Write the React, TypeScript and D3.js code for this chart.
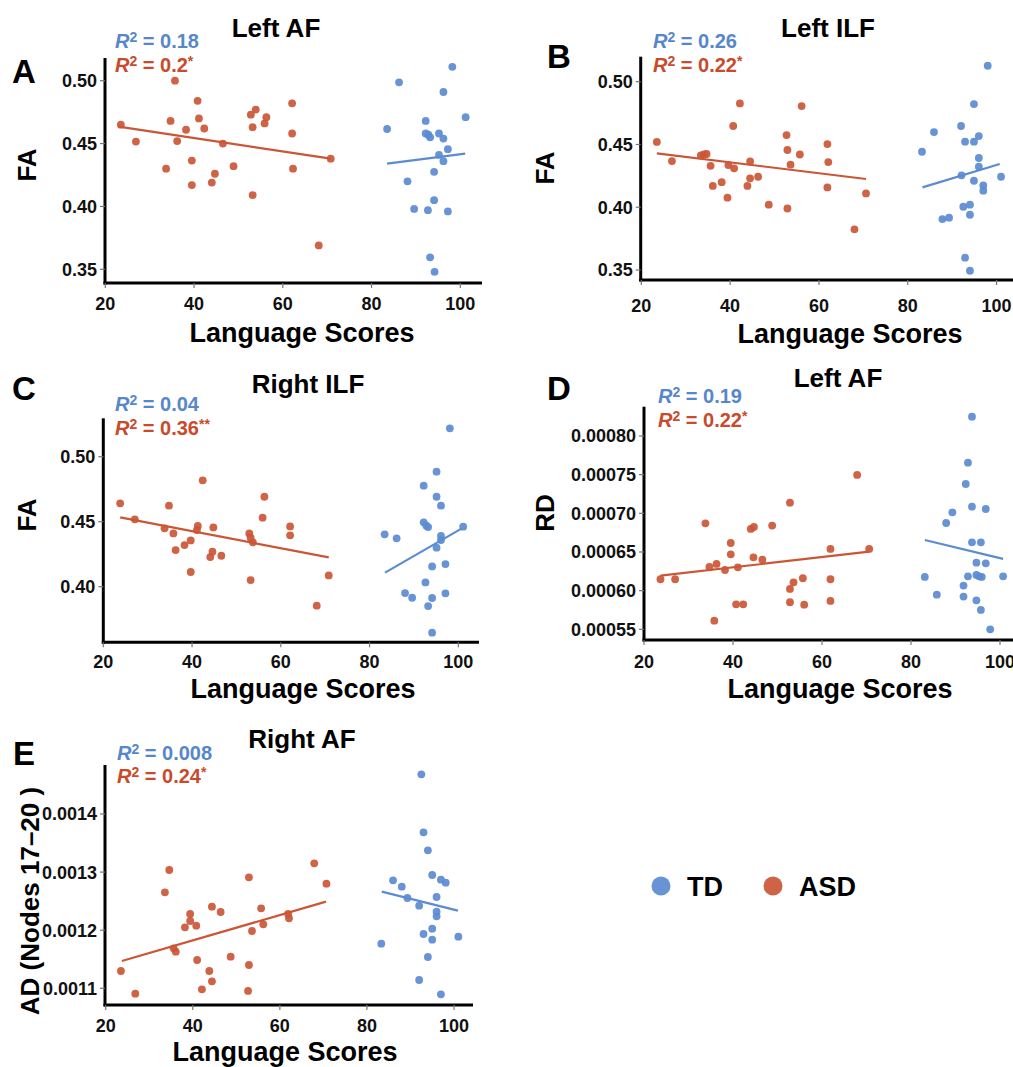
import React from "react";
import * as d3 from "d3";

// ---- data ----
const xTicks = [20, 40, 60, 80, 100];
const faTicks = [0.35, 0.4, 0.45, 0.5];
const rdTicks = [0.00055, 0.0006, 0.00065, 0.0007, 0.00075, 0.0008];
const adTicks = [0.0011, 0.0012, 0.0013, 0.0014];

const leftAfFaAsd: [number, number][] = [
  [23.5, 0.465], [26.9, 0.4516], [33.7, 0.43], [34.7, 0.468], [35.7, 0.5], [36.2, 0.452],
  [38.2, 0.461], [39.5, 0.4365], [39.5, 0.417], [40.8, 0.484], [41.1, 0.47], [42.3, 0.462],
  [44.0, 0.419], [44.7, 0.426], [46.5, 0.45], [48.9, 0.432], [52.8, 0.473], [53.2, 0.463],
  [53.2, 0.409], [53.9, 0.477], [55.9, 0.466], [56.3, 0.471], [62.1, 0.482], [62.1, 0.458],
  [62.3, 0.43], [68.1, 0.369], [70.8, 0.438],
];
const leftAfFaTd: [number, number][] = [
  [83.5, 0.4616], [86.2, 0.4987], [88.1, 0.42], [89.6, 0.398], [92.2, 0.468], [92.2, 0.458],
  [92.8, 0.457], [93.2, 0.455], [92.7, 0.397], [93.2, 0.3595], [94.1, 0.4275], [94.1, 0.405],
  [94.2, 0.348], [95.2, 0.458], [95.2, 0.441], [96.2, 0.491], [96.2, 0.454], [96.2, 0.436],
  [97.2, 0.4455], [97.2, 0.396], [98.2, 0.511], [101.2, 0.471],
];
const leftAfFaAsdFit: [number, number][] = [[23.0, 0.4635], [70.8, 0.438]];
const leftAfFaTdFit: [number, number][] = [[83.5, 0.434], [101.1, 0.442]];

const leftIlfFaAsd: [number, number][] = [
  [23.5, 0.452], [26.9, 0.4368], [33.4, 0.4413], [34.1, 0.442], [34.7, 0.4424], [35.6, 0.433],
  [36.1, 0.417], [38.1, 0.42], [39.4, 0.4076], [39.6, 0.4336], [40.7, 0.4647], [40.9, 0.431],
  [42.2, 0.4827], [43.9, 0.417], [44.5, 0.423], [44.5, 0.4365], [46.3, 0.4243], [48.7, 0.402],
  [52.7, 0.4575], [52.9, 0.4456], [52.9, 0.399], [53.6, 0.4339], [55.7, 0.442], [56.1, 0.4806],
  [61.9, 0.4503], [62.1, 0.436], [61.9, 0.4158], [68.0, 0.3824], [70.6, 0.411],
];
const leftIlfFaTd: [number, number][] = [
  [83.2, 0.4442], [85.9, 0.4599], [87.8, 0.3906], [89.3, 0.3917], [92.0, 0.4647], [92.1, 0.4254],
  [92.5, 0.4004], [92.9, 0.4522], [92.9, 0.3598], [94.0, 0.402], [94.0, 0.394], [94.0, 0.3494],
  [94.9, 0.4822], [94.9, 0.4522], [94.9, 0.4211], [96.0, 0.4567], [96.0, 0.4392], [96.0, 0.4323],
  [97.0, 0.4174], [97.0, 0.4132], [98.0, 0.5127], [101.0, 0.4243],
];
const leftIlfFaAsdFit: [number, number][] = [[23.5, 0.4429], [70.6, 0.4225]];
const leftIlfFaTdFit: [number, number][] = [[83.3, 0.4158], [100.7, 0.4344]];

const rightIlfFaAsd: [number, number][] = [
  [23.8, 0.4641], [27.1, 0.4518], [33.8, 0.4449], [34.8, 0.4623], [35.8, 0.441], [36.3, 0.4282],
  [38.3, 0.432], [39.7, 0.4356], [39.7, 0.4113], [41.1, 0.4436], [41.3, 0.4467], [42.4, 0.4818],
  [44.1, 0.4228], [44.6, 0.4269], [44.8, 0.4456], [46.6, 0.4238], [52.9, 0.441], [53.2, 0.4377],
  [53.7, 0.4341], [53.2, 0.4051], [55.9, 0.4531], [56.3, 0.4692], [62.1, 0.4464], [62.1, 0.4395],
  [68.1, 0.3854], [70.8, 0.4087],
];
const rightIlfFaTd: [number, number][] = [
  [83.4, 0.4403], [86.1, 0.4372], [88.0, 0.3951], [89.6, 0.3915], [92.2, 0.4777], [92.2, 0.4495],
  [92.8, 0.4469], [93.2, 0.4459], [92.6, 0.4033], [93.2, 0.3851], [94.1, 0.4156], [94.1, 0.3913],
  [94.1, 0.3646], [95.1, 0.4885], [95.1, 0.4692], [95.1, 0.43], [96.1, 0.4623], [96.1, 0.439],
  [96.1, 0.4359], [97.1, 0.4174], [97.1, 0.3949], [98.1, 0.5218], [101.1, 0.4462],
];
const rightIlfFaAsdFit: [number, number][] = [[23.8, 0.4533], [70.8, 0.4226]];
const rightIlfFaTdFit: [number, number][] = [[83.5, 0.4108], [100.8, 0.4449]];

const leftAfRdAsd: [number, number][] = [
  [23.7, 0.0006147], [27.0, 0.0006147], [33.8, 0.0006871], [34.7, 0.0006306], [35.8, 0.0005612],
  [36.3, 0.0006345], [38.2, 0.0006267], [39.5, 0.0006616], [39.5, 0.000647], [40.7, 0.0005823],
  [41.1, 0.0006302], [42.3, 0.0005823], [44.0, 0.0006798], [44.7, 0.0006823], [44.6, 0.0006431],
  [46.6, 0.0006401], [48.8, 0.0006841], [52.8, 0.0007138], [52.8, 0.0006022], [52.8, 0.000585],
  [53.6, 0.0006108], [55.7, 0.000616], [56.0, 0.0005819], [61.9, 0.0006539], [61.9, 0.0006147],
  [61.9, 0.0005867], [67.9, 0.0007496], [70.6, 0.0006539],
];
const leftAfRdTd: [number, number][] = [
  [83.1, 0.0006177], [85.8, 0.0005948], [87.9, 0.0006875], [89.3, 0.0007013], [91.8, 0.0006065],
  [91.8, 0.0005923], [92.3, 0.0007379], [92.8, 0.0007655], [92.8, 0.0006185], [93.7, 0.000825],
  [93.7, 0.0007086], [93.7, 0.0006625], [94.7, 0.0006362], [94.7, 0.0006203], [94.7, 0.0005875],
  [95.3, 0.0006185], [95.9, 0.0006177], [95.7, 0.0006625], [95.7, 0.000575], [96.8, 0.0007056],
  [96.8, 0.0006353], [97.8, 0.00055], [100.7, 0.0006185],
];
const leftAfRdAsdFit: [number, number][] = [[23.7, 0.0006194], [70.6, 0.0006504]];
const leftAfRdTdFit: [number, number][] = [[83.1, 0.0006655], [100.7, 0.000641]];

const rightAfAdAsd: [number, number][] = [
  [23.5, 0.0011298], [26.8, 0.0010908], [33.6, 0.0012652], [34.6, 0.0013036], [35.6, 0.0011688],
  [36.1, 0.001163], [38.2, 0.0012049], [39.4, 0.0012279], [39.4, 0.0012158], [40.8, 0.0012078],
  [41.0, 0.0011487], [42.1, 0.0010982], [43.8, 0.0011298], [44.4, 0.0012405], [44.4, 0.001112],
  [46.4, 0.0012313], [48.7, 0.0011545], [52.9, 0.001291], [52.9, 0.0011401], [52.7, 0.0010954],
  [53.6, 0.0011986], [55.7, 0.0012376], [56.2, 0.0012101], [61.9, 0.0012279], [62.1, 0.0012204],
  [67.9, 0.0013151], [70.7, 0.0012801],
];
const rightAfAdTd: [number, number][] = [
  [83.3, 0.0011768], [86.0, 0.0012858], [88.0, 0.0012749], [89.3, 0.0012554], [92.0, 0.0012422],
  [92.0, 0.0011143], [92.5, 0.0014683], [93.0, 0.0013684], [93.0, 0.0011935], [94.0, 0.0013375],
  [94.0, 0.0011539], [95.0, 0.001295], [95.0, 0.0012026], [95.0, 0.0011837], [96.0, 0.0012571],
  [96.0, 0.0012319], [96.0, 0.0012239], [97.0, 0.001287], [97.0, 0.0010896], [98.1, 0.0012818],
  [101.0, 0.0011889],
];
const rightAfAdAsdFit: [number, number][] = [[23.7, 0.001147], [70.6, 0.0012491]];
const rightAfAdTdFit: [number, number][] = [[83.4, 0.0012663], [100.9, 0.0012336]];

const tdColor = "#5b8bd2";
const asdColor = "#cb5636";
const tdText = "#5787cb";
const asdText = "#c94a2c";
const font = "'Liberation Sans', Arial, Helvetica, sans-serif";

type Panel = {
  letter: string; title: string; yLabel: string; yTicks: number[]; yFmt: string;
  asd: [number, number][]; td: [number, number][];
  asdFit: [number, number][]; tdFit: [number, number][];
  r2Td: string; r2Asd: string; stars: string;
  // layout (pixels)
  x20: number; x100: number; xEnd: number; axisX: number; axisTop: number; axisY: number;
  yLo: [number, number]; yHi: [number, number];
  letterPos: [number, number]; titlePos: [number, number];
  r2Pos: [number, number, number]; yLabelPos: [number, number];
  xTitlePos: [number, number]; tickBase: number;
};

const panels: Panel[] = [
  {
    letter: "A", title: "Left AF", yLabel: "FA", yTicks: faTicks, yFmt: ".2f",
    asd: leftAfFaAsd, td: leftAfFaTd, asdFit: leftAfFaAsdFit, tdFit: leftAfFaTdFit,
    r2Td: "0.18", r2Asd: "0.2", stars: "*",
    x20: 105.3, x100: 460.3, xEnd: 482, axisX: 105, axisTop: 58, axisY: 283,
    yLo: [0.35, 269.3], yHi: [0.5, 80.7],
    letterPos: [12, 83], titlePos: [276, 37], r2Pos: [115, 48, 72], yLabelPos: [27, 165],
    xTitlePos: [302, 342], tickBase: 310,
  },
  {
    letter: "B", title: "Left ILF", yLabel: "FA", yTicks: faTicks, yFmt: ".2f",
    asd: leftIlfFaAsd, td: leftIlfFaTd, asdFit: leftIlfFaAsdFit, tdFit: leftIlfFaTdFit,
    r2Td: "0.26", r2Asd: "0.22", stars: "*",
    x20: 641.3, x100: 996.6, xEnd: 1020, axisX: 640.7, axisTop: 56.7, axisY: 280,
    yLo: [0.35, 270], yHi: [0.5, 81.7],
    letterPos: [547, 68], titlePos: [828, 37], r2Pos: [653, 48, 72], yLabelPos: [545, 168],
    xTitlePos: [850, 343], tickBase: 312,
  },
  {
    letter: "C", title: "Right ILF", yLabel: "FA", yTicks: faTicks.slice(1), yFmt: ".2f",
    asd: rightIlfFaAsd, td: rightIlfFaTd, asdFit: rightIlfFaAsdFit, tdFit: rightIlfFaTdFit,
    r2Td: "0.04", r2Asd: "0.36", stars: "**",
    x20: 103.3, x100: 458.3, xEnd: 479, axisX: 103.3, axisTop: 418.3, axisY: 642.3,
    yLo: [0.4, 586.7], yHi: [0.5, 456.7],
    letterPos: [12, 400], titlePos: [308, 393], r2Pos: [115, 411, 435], yLabelPos: [27, 515],
    xTitlePos: [303, 698], tickBase: 668,
  },
  {
    letter: "D", title: "Left AF", yLabel: "RD", yTicks: rdTicks, yFmt: ".5f",
    asd: leftAfRdAsd, td: leftAfRdTd, asdFit: leftAfRdAsdFit, tdFit: leftAfRdTdFit,
    r2Td: "0.19", r2Asd: "0.22", stars: "*",
    x20: 644, x100: 1000, xEnd: 1020, axisX: 644, axisTop: 406.7, axisY: 640,
    yLo: [0.00055, 629.3], yHi: [0.0008, 436],
    letterPos: [547, 400], titlePos: [838, 387], r2Pos: [658, 403, 427], yLabelPos: [545, 513],
    xTitlePos: [840, 698], tickBase: 668,
  },
  {
    letter: "E", title: "Right AF", yLabel: "AD (Nodes 17\u201320 )", yTicks: adTicks, yFmt: ".4f",
    asd: rightAfAdAsd, td: rightAfAdTd, asdFit: rightAfAdAsdFit, tdFit: rightAfAdTdFit,
    r2Td: "0.008", r2Asd: "0.24", stars: "*",
    x20: 105.7, x100: 454, xEnd: 473, axisX: 105, axisTop: 765, axisY: 1005,
    yLo: [0.0011, 988.3], yHi: [0.0014, 814],
    letterPos: [13, 765], titlePos: [302, 748], r2Pos: [117, 760, 783], yLabelPos: [30, 901],
    xTitlePos: [285, 1061], tickBase: 1032,
  },
];

function R2({ x, y, color, value, stars }: { x: number; y: number; color: string; value: string; stars?: string }) {
  return (
    <text x={x} y={y} fill={color} fontSize={20} fontWeight="bold" fontFamily={font}>
      <tspan fontStyle="italic">R</tspan>
      <tspan fontSize={14} dy={-6}>2</tspan>
      <tspan dy={6}>{" = " + value}</tspan>
      {stars ? <tspan fontSize={14} dy={-6}>{stars}</tspan> : null}
    </text>
  );
}

function ScatterPanel({ p }: { p: Panel }) {
  const x = d3.scaleLinear().domain([20, 100]).range([p.x20, p.x100]);
  const y = d3.scaleLinear().domain([p.yLo[0], p.yHi[0]]).range([p.yLo[1], p.yHi[1]]);
  const fmt = d3.format(p.yFmt);
  const line = d3.line<[number, number]>().x((d) => x(d[0])).y((d) => y(d[1]));
  return (
    <g fontFamily={font}>
      {/* axes */}
      <line x1={p.axisX} x2={p.axisX} y1={p.axisTop} y2={p.axisY + 1.5} stroke="#000" strokeWidth={3} />
      <line x1={p.axisX - 1.5} x2={p.xEnd} y1={p.axisY} y2={p.axisY} stroke="#000" strokeWidth={3} />
      {p.yTicks.map((t) => (
        <g key={"y" + t}>
          <line x1={p.axisX - 5} x2={p.axisX} y1={y(t)} y2={y(t)} stroke="#777" strokeWidth={1.2} />
          <text x={p.axisX - 8} y={y(t)} dy="0.36em" textAnchor="end" fontSize={18} fontWeight="bold" fill="#111">
            {fmt(t)}
          </text>
        </g>
      ))}
      {xTicks.map((t) => (
        <g key={"x" + t}>
          <line x1={x(t)} x2={x(t)} y1={p.axisY} y2={p.axisY + 5} stroke="#777" strokeWidth={1.2} />
          <text x={x(t)} y={p.tickBase} textAnchor="middle" fontSize={18} fontWeight="bold" fill="#111">
            {t}
          </text>
        </g>
      ))}
      {/* points */}
      {p.asd.map((d, i) => (
        <circle key={"a" + i} cx={x(d[0])} cy={y(d[1])} r={3.9} fill={asdColor} fillOpacity={0.92} />
      ))}
      {p.td.map((d, i) => (
        <circle key={"t" + i} cx={x(d[0])} cy={y(d[1])} r={3.9} fill={tdColor} fillOpacity={0.92} />
      ))}
      {/* fits */}
      <path d={line(p.asdFit) || ""} stroke={asdColor} strokeWidth={2.2} fill="none" />
      <path d={line(p.tdFit) || ""} stroke={tdColor} strokeWidth={2.2} fill="none" />
      {/* texts */}
      <text x={p.letterPos[0]} y={p.letterPos[1]} fontSize={33} fontWeight="bold" fill="#000">{p.letter}</text>
      <text x={p.titlePos[0]} y={p.titlePos[1]} textAnchor="middle" fontSize={26} fontWeight="bold" fill="#000">{p.title}</text>
      <R2 x={p.r2Pos[0]} y={p.r2Pos[1]} color={tdText} value={p.r2Td} />
      <R2 x={p.r2Pos[0]} y={p.r2Pos[2]} color={asdText} value={p.r2Asd} stars={p.stars} />
      <text
        transform={`translate(${p.yLabelPos[0]},${p.yLabelPos[1]}) rotate(-90)`}
        textAnchor="middle" dy="0.36em" fontSize={26} fontWeight="bold" fill="#000"
      >
        {p.yLabel}
      </text>
      <text x={p.xTitlePos[0]} y={p.xTitlePos[1]} textAnchor="middle" fontSize={27} fontWeight="bold" fill="#000">
        Language Scores
      </text>
    </g>
  );
}

const legendItems = [
  { label: "TD", color: tdColor },
  { label: "ASD", color: asdColor },
];

export default function App() {
  return (
    <div style={{ position: "absolute", left: 0, top: 0 }}>
      <svg width={1013} height={1067} style={{ display: "block", background: "#fff" }}>
        {panels.map((p) => (
          <ScatterPanel key={p.letter} p={p} />
        ))}
        <g fontFamily={font}>
          {legendItems.map((d, i) => (
            <g key={d.label} transform={`translate(${661 + i * 112},886)`}>
              <circle r={9.5} fill={d.color} fillOpacity={0.92} />
              <text x={26} dy="0.36em" fontSize={27} fontWeight="bold" fill="#000">{d.label}</text>
            </g>
          ))}
        </g>
      </svg>
    </div>
  );
}
